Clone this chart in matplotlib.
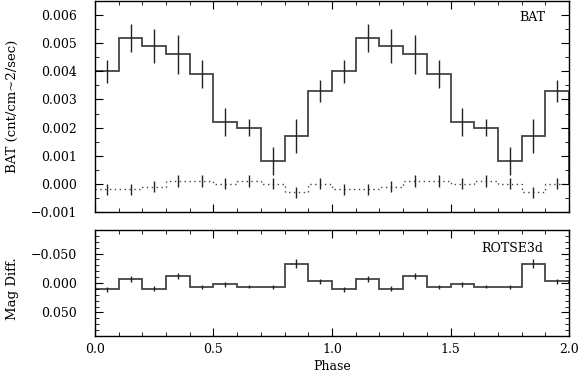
import numpy as np
import matplotlib
matplotlib.use("Agg")
import matplotlib.pyplot as plt
from matplotlib.ticker import MultipleLocator, FuncFormatter

# one cycle, 10 phase bins, plotted twice (phase 0-2)
bat = [0.0040, 0.0052, 0.0049, 0.0046, 0.0039, 0.0022, 0.0020, 0.0008, 0.0017, 0.0033]
bat_err = [0.0004, 0.0005, 0.0006, 0.0007, 0.0005, 0.0005, 0.0003, 0.0005, 0.0006, 0.0004]
bkg = [-0.0002, -0.0002, -0.0001, 0.0001, 0.0001, 0.0000, 0.0001, 0.0000, -0.0003, 0.0000]
bkg_err = [0.0002] * 10
rotse = [0.011, -0.0075, 0.0095, -0.0115, 0.0068, 0.0023, 0.006, 0.0068, -0.033, -0.003]
rotse_err = [0.005, 0.005, 0.004, 0.005, 0.004, 0.004, 0.003, 0.003, 0.007, 0.004]

nb = len(bat)
edges = np.arange(2 * nb + 1) / nb
centers = (edges[:-1] + edges[1:]) / 2

def two(a):
    a = np.array(a)
    return np.concatenate([a, a])

def fmt(f):
    return FuncFormatter(lambda v, p: (f % v).replace('-', '\u2212'))

plt.rcParams['font.family'] = 'DejaVu Serif'
plt.rcParams['font.size'] = 9

fig = plt.figure(figsize=(5.82, 3.75), dpi=100)
ax1 = fig.add_axes([0.1632, 0.4347, 0.8145, 0.5626])
ax2 = fig.add_axes([0.1632, 0.104, 0.8145, 0.2827])

lc = '#444444'
# BAT
y = two(bat)
ax1.stairs(y, edges, color=lc, lw=1.3)
ax1.errorbar(centers, y, yerr=two(bat_err), fmt='none', ecolor='#222222', elinewidth=1.0)
yb = two(bkg)
ax1.stairs(yb, edges, color=lc, lw=1.0, ls=(0, (1, 2.5)))
ax1.errorbar(centers, yb, yerr=two(bkg_err), fmt='none', ecolor='#222222', elinewidth=1.0)
ax1.set_xlim(0, 2)
ax1.set_ylim(-0.001, 0.0065)
ax1.yaxis.set_major_locator(MultipleLocator(0.001))
ax1.yaxis.set_minor_locator(MultipleLocator(0.0005))
ax1.yaxis.set_major_formatter(fmt('%.3f'))
ax1.set_ylabel('BAT (cnt/cm~2/sec)', fontsize=9.5)
ax1.yaxis.set_label_coords(-0.16, 0.5)
ax1.text(0.922, 0.92, 'BAT', transform=ax1.transAxes, ha='center', va='center')
ax1.tick_params(labelbottom=False)

# ROTSE
yr = two(rotse)
ax2.stairs(yr, edges, color=lc, lw=1.3)
ax2.errorbar(centers, yr, yerr=two(rotse_err), fmt='none', ecolor='#222222', elinewidth=1.0)
ax2.set_xlim(0, 2)
ax2.set_ylim(0.09, -0.09)
ax2.yaxis.set_major_locator(MultipleLocator(0.05))
ax2.yaxis.set_minor_locator(MultipleLocator(0.01))
ax2.yaxis.set_major_formatter(fmt('%.3f'))
ax2.set_ylabel('Mag Diff.', fontsize=9.5)
ax2.yaxis.set_label_coords(-0.16, 0.45)
ax2.set_xlabel('Phase', labelpad=3)
ax2.text(0.88, 0.83, 'ROTSE3d', transform=ax2.transAxes, ha='center', va='center')

for ax in (ax1, ax2):
    ax.xaxis.set_major_locator(MultipleLocator(0.5))
    ax.xaxis.set_minor_locator(MultipleLocator(0.1))
    ax.xaxis.set_major_formatter(fmt('%.1f'))
    ax.tick_params(which='both', direction='in', top=True, right=True)
    ax.tick_params(axis='y', which='major', pad=13)
    ax.tick_params(axis='x', which='major', pad=5)
    ax.tick_params(which='major', length=6)
    ax.tick_params(which='minor', length=3)
    for s in ax.spines.values():
        s.set_linewidth(1.0)

fig.savefig('out.png', dpi=100)
